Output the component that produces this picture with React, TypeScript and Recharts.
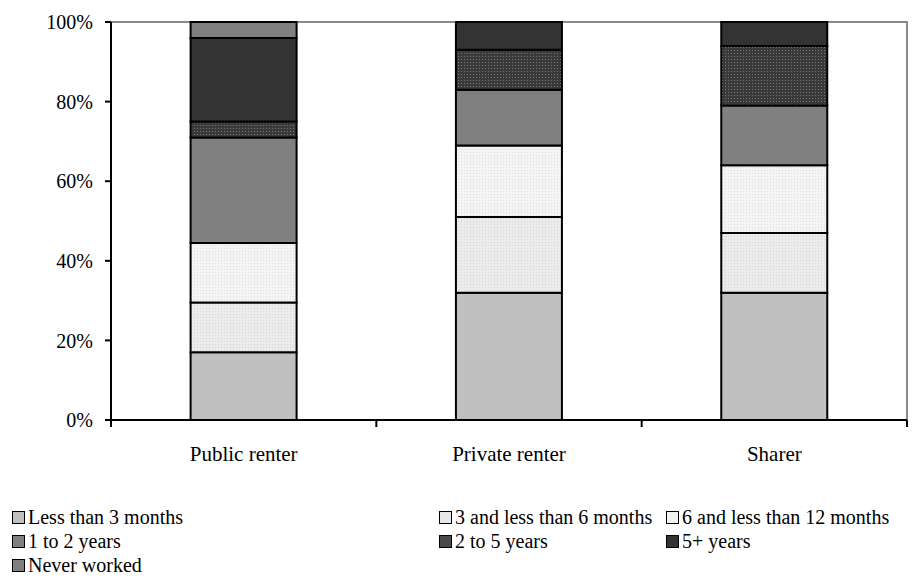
import React from 'react';
import { BarChart, Bar, XAxis, YAxis, CartesianGrid, ReferenceArea } from 'recharts';

const categories = ['Public renter', 'Private renter', 'Sharer'];
const lessThan3Months = [17, 32, 32];
const threeTo6Months = [12.5, 19, 15];
const sixTo12Months = [15, 18, 17];
const oneTo2Years = [26.5, 14, 15];
const twoTo5Years = [4, 10, 15];
const fivePlusYears = [21, 7, 6];
const neverWorked = [4, 0, 0];
const yTicks = [0, 20, 40, 60, 80, 100];

const seriesNames = [
  'Less than 3 months',
  '3 and less than 6 months',
  '6 and less than 12 months',
  '1 to 2 years',
  '2 to 5 years',
  '5+ years',
  'Never worked',
];
const seriesValues = [
  lessThan3Months, threeTo6Months, sixTo12Months, oneTo2Years,
  twoTo5Years, fivePlusYears, neverWorked,
];

const fills = [
  '#c0c0c0',
  'url(#dotsLight)',
  'url(#dotsLighter)',
  '#808080',
  'url(#dotsDark)',
  '#333333',
  '#808080',
];
const legendFills = ['#c0c0c0', '#e8e8e8', '#f2f2f2', '#808080', '#4a4a4a', '#333333', '#808080'];

const data = categories.map((name, i) => {
  const row: Record<string, string | number> = { name };
  seriesNames.forEach((s, j) => { row[s] = seriesValues[j][i]; });
  return row;
});

const font = '"Liberation Serif", "Times New Roman", serif';
const PLOT_LEFT = 103;
const PLOT_W = 796;
const BAND = PLOT_W / categories.length;

const CategoryTick = (props: any) => {
  const { x, y, payload, index } = props;
  return (
    <g>
      {index === 0 && <line x1={x - BAND / 2} x2={x - BAND / 2} y1={y} y2={y + 7} stroke="#000" strokeWidth={2} />}
      <line x1={x + BAND / 2} x2={x + BAND / 2} y1={y} y2={y + 7} stroke="#000" strokeWidth={2} />
      <text x={x} y={y + 41} textAnchor="middle" fontSize={21} fontFamily={font} fill="#000">
        {payload.value}
      </text>
    </g>
  );
};

const legendCols = [0, 427, 654];

export default function App() {
  return (
    <div style={{ fontFamily: font }}>
      <BarChart
        width={915}
        height={480}
        data={data}
        barCategoryGap="30%"
        margin={{ top: 14, right: 16, left: 0, bottom: 38 }}
      >
        <defs>
          <pattern id="dotsLight" width="3" height="3" patternUnits="userSpaceOnUse">
            <rect width="3" height="3" fill="#ebebeb" />
            <rect width="1" height="1" fill="#d6d6d6" />
          </pattern>
          <pattern id="dotsLighter" width="3" height="3" patternUnits="userSpaceOnUse">
            <rect width="3" height="3" fill="#f4f4f4" />
            <rect width="1" height="1" fill="#dedede" />
          </pattern>
          <pattern id="dotsDark" width="3" height="3" patternUnits="userSpaceOnUse">
            <rect width="3" height="3" fill="#3a3a3a" />
            <rect width="1" height="1" fill="#777777" />
          </pattern>
        </defs>
        <CartesianGrid vertical={false} stroke="#b0b0b0" strokeDasharray="5 5" />
        <ReferenceArea yAxisId="left" y1={0} y2={100} fill="none" stroke="#8a8a8a" strokeWidth={2} />
        <XAxis
          dataKey="name"
          stroke="#000"
          strokeWidth={2}
          tickLine={false}
          tickSize={0}
          tickMargin={0}
          interval={0}
          tick={<CategoryTick />}
        />
        <YAxis
          yAxisId="left"
          width={PLOT_LEFT}
          domain={[0, 100]}
          ticks={yTicks}
          tickFormatter={(v: number) => `${v}%`}
          stroke="#000"
          strokeWidth={2}
          tickSize={6}
          tickMargin={12}
          tick={{ fontSize: 20, fontFamily: font, fill: '#000' }}
        />
        {seriesNames.map((s, j) => (
          <Bar
            key={s}
            yAxisId="left"
            dataKey={s}
            stackId="a"
            fill={fills[j]}
            stroke="#000"
            strokeWidth={2}
            isAnimationActive={false}
          />
        ))}
      </BarChart>
      <div style={{ position: 'relative', height: 80, marginTop: 17, fontSize: 20, lineHeight: '24px' }}>
        {seriesNames.map((s, j) => (
          <div
            key={s}
            style={{
              position: 'absolute',
              left: legendCols[j % 3] + 4,
              top: Math.floor(j / 3) * 24,
              display: 'flex',
              alignItems: 'center',
              whiteSpace: 'nowrap',
            }}
          >
            <span
              style={{
                display: 'inline-block',
                width: 11,
                height: 11,
                background: legendFills[j],
                border: '1.5px solid #000',
                marginRight: 3,
              }}
            />
            <span>{s}</span>
          </div>
        ))}
      </div>
    </div>
  );
}
